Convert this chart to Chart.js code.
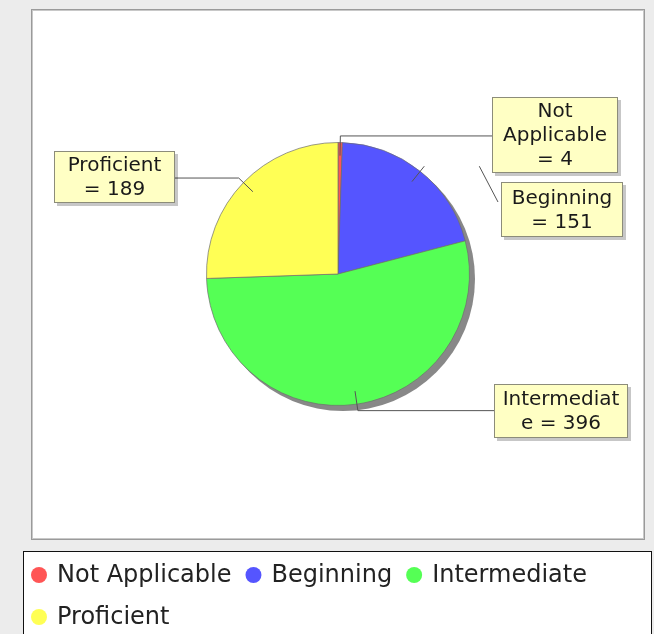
<!DOCTYPE html>
<html>
<head>
<meta charset="utf-8">
<script src="https://cdn.jsdelivr.net/npm/chart.js@4/dist/chart.umd.min.js"></script>
<style>
  html, body { margin: 0; padding: 0; background: #ececec; }
  #wrap { position: relative; width: 654px; height: 634px; }
  canvas { display: block; }
</style>
</head>
<body>
<div id="wrap"><canvas id="c" width="654" height="634"></canvas></div>
<script>
// ---- data ----
const categories = ["Not Applicable", "Beginning", "Intermediate", "Proficient"];
const counts = [4, 151, 396, 189];
const sliceColors = ["#ff5555", "#5555ff", "#55ff55", "#ffff55"];

// ---- layout (label boxes: left, top, width, height) ----
const labelBoxes = [
  { x: 492, y: 97,  w: 126, h: 76 },
  { x: 501, y: 182, w: 122, h: 55 },
  { x: 494, y: 384, w: 134, h: 54 },
  { x: 54,  y: 151, w: 121, h: 52 }
];

function wrapName(ctx, text, maxW) {
  const words = text.split(' ');
  const lines = [];
  let line = '';
  for (let w of words) {
    const cand = line ? line + ' ' + w : w;
    if (ctx.measureText(cand).width <= maxW) { line = cand; continue; }
    if (line) { lines.push(line); line = ''; }
    while (ctx.measureText(w).width > maxW) {
      let i = w.length;
      while (i > 1 && ctx.measureText(w.slice(0, i)).width > maxW) i--;
      lines.push(w.slice(0, i));
      w = w.slice(i);
    }
    line = w;
  }
  if (line) lines.push(line);
  return lines;
}

const framePlugin = {
  id: 'frame',
  beforeDraw(chart) {
    const ctx = chart.ctx;
    ctx.save();
    ctx.fillStyle = '#ececec';
    ctx.fillRect(0, 0, 654, 634);
    // main panel
    ctx.fillStyle = '#ffffff';
    ctx.fillRect(31, 9, 614, 531);
    ctx.strokeStyle = '#9a9a9a';
    ctx.lineWidth = 1;
    ctx.strokeRect(31.5, 9.5, 613, 530);
    ctx.strokeStyle = '#c8c8c8';
    ctx.strokeRect(32.5, 10.5, 611, 528);
    // legend box
    ctx.fillStyle = '#ffffff';
    ctx.fillRect(23, 551, 629, 90);
    ctx.strokeStyle = '#111111';
    ctx.strokeRect(23.5, 551.5, 628, 90);
    ctx.restore();
  },
  beforeDatasetsDraw(chart) {
    const arc = chart.getDatasetMeta(0).data[0];
    if (!arc) return;
    const ctx = chart.ctx;
    ctx.save();
    ctx.fillStyle = '#888888';
    ctx.beginPath();
    ctx.arc(arc.x + 5, arc.y + 5, arc.outerRadius + 0.5, 0, Math.PI * 2);
    ctx.fill();
    ctx.restore();
  },
  afterDatasetsDraw(chart) {
    const ctx = chart.ctx;
    const arcs = chart.getDatasetMeta(0).data;
    const ds = chart.data.datasets[0];
    ctx.save();
    ctx.font = '20px "DejaVu Sans"';
    arcs.forEach((a, i) => {
      const mid = (a.startAngle + a.endAngle) / 2;
      const r = a.outerRadius;
      const cx = a.x, cy = a.y;
      const ix = cx + Math.cos(mid) * r * 0.9, iy = cy + Math.sin(mid) * r * 0.9;
      const ox = cx + Math.cos(mid) * r * 1.05, oy = cy + Math.sin(mid) * r * 1.05;
      const b = labelBoxes[i];
      ctx.strokeStyle = '#555555';
      ctx.lineWidth = 1;
      ctx.beginPath();
      ctx.moveTo(ix, iy);
      ctx.lineTo(ox, oy);
      if (i === 1) {
        ctx.moveTo(ox + 55, oy);
        ctx.lineTo(b.x - 3, b.y + 20);
      } else {
        const bx = (b.x > cx) ? b.x : b.x + b.w;
        ctx.lineTo(bx, oy);
      }
      ctx.stroke();

      // box with shadow
      ctx.fillStyle = 'rgba(0,0,0,0.22)';
      ctx.fillRect(b.x + 3, b.y + 3, b.w, b.h);
      ctx.fillStyle = '#ffffc4';
      ctx.fillRect(b.x, b.y, b.w, b.h);
      ctx.strokeStyle = '#8c8c7a';
      ctx.strokeRect(b.x + 0.5, b.y + 0.5, b.w - 1, b.h - 1);

      const lines = wrapName(ctx, chart.data.labels[i], 122);
      const tail = '= ' + ds.data[i];
      const last = lines[lines.length - 1] + ' ' + tail;
      if (ctx.measureText(last).width <= 122) lines[lines.length - 1] = last;
      else lines.push(tail);
      const lh = 24;
      const y0 = b.y + b.h / 2 - (lines.length - 1) * lh / 2;
      ctx.fillStyle = '#1a1a1a';
      ctx.textAlign = 'center';
      ctx.textBaseline = 'middle';
      lines.forEach((ln, k) => ctx.fillText(ln, b.x + b.w / 2, y0 + k * lh + 1));
    });

    // legend
    ctx.font = '24px "DejaVu Sans"';
    ctx.textAlign = 'left';
    ctx.textBaseline = 'middle';
    let x = 39, y = 575;
    chart.data.labels.forEach((lab, i) => {
      const tw = ctx.measureText(lab).width;
      if (x + 18 + tw > 645) { x = 39; y += 42; }
      ctx.fillStyle = ds.backgroundColor[i];
      ctx.beginPath();
      ctx.arc(x, y, 8, 0, Math.PI * 2);
      ctx.fill();
      ctx.fillStyle = '#222222';
      ctx.fillText(lab, x + 18, y + 1);
      x += 18 + tw + 22;
    });
    ctx.restore();
  }
};

new Chart(document.getElementById('c'), {
  type: 'pie',
  data: {
    labels: categories,
    datasets: [{
      data: counts,
      backgroundColor: sliceColors,
      borderColor: 'rgba(110,110,110,0.7)',
      borderWidth: 1
    }]
  },
  options: {
    responsive: false,
    animation: false,
    events: [],
    layout: { padding: { left: 206, top: 142, right: 184, bottom: 228 } },
    plugins: { legend: { display: false }, tooltip: { enabled: false } }
  },
  plugins: [framePlugin]
});
</script>
</body>
</html>
